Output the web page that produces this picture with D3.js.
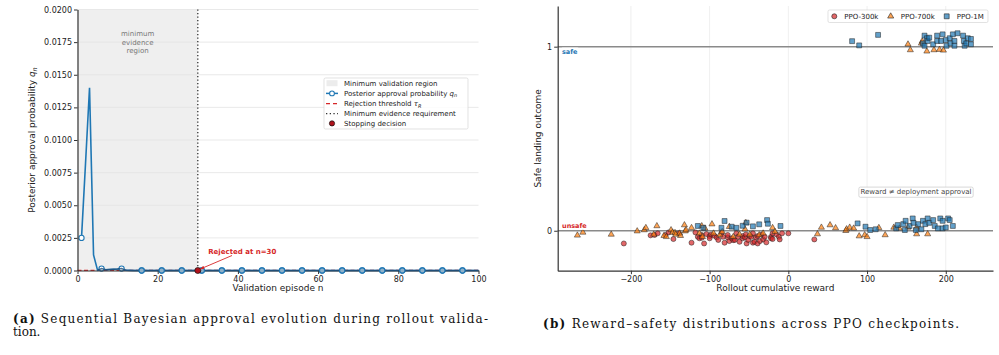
<!DOCTYPE html>
<html>
<head>
<meta charset="utf-8">
<script src="https://cdn.jsdelivr.net/npm/d3@7"></script>
<style>
body { margin: 0; background: #fff; }
text { font-family: "DejaVu Sans", sans-serif; }
.cap { font-family: "DejaVu Serif", serif; }
</style>
</head>
<body>
<div id="chart"></div>
<script>
// ---- data: panel (a) ----
// posterior approval probability q_n for validation episodes n = 1..100
const qValues = [
  0.0025, 0.0082, 0.0140, 0.0012, 0.00002, 0.00015, 0.00006, 0.00008, 0.00010, 0.00012,
  0.00015, 0.00002, 0.00001, 0, 0, 0, 0, 0, 0, 0,
  0, 0, 0, 0, 0, 0, 0, 0, 0, 0,
  0, 0, 0, 0, 0, 0, 0, 0, 0, 0,
  0, 0, 0, 0, 0, 0, 0, 0, 0, 0,
  0, 0, 0, 0, 0, 0, 0, 0, 0, 0,
  0, 0, 0, 0, 0, 0, 0, 0, 0, 0,
  0, 0, 0, 0, 0, 0, 0, 0, 0, 0,
  0, 0, 0, 0, 0, 0, 0, 0, 0, 0,
  0, 0, 0, 0, 0, 0, 0, 0, 0, 0
];
const minEvidence = 30;
const rejectThreshold = 0.00001;
const stopEpisode = 30;
const xTicksA = [0, 20, 40, 60, 80, 100];
const yTicksA = [0, 0.0025, 0.005, 0.0075, 0.01, 0.0125, 0.015, 0.0175, 0.02];

// ---- data: panel (b) ----  [cumulative reward, plotted outcome (0/1 + jitter)]
const ppo300k = [
  [-209,-0.069],[-175,-0.025],[-170,-0.023],[-166,-0.014],[-156,-0.023],[-152,-0.009],[-146,-0.045],
  [-139,-0.014],[-123,-0.065],[-118,-0.009],[-115,-0.033],[-113,-0.041],[-110,-0.023],[-110,-0.038],
  [-107,-0.069],[-104,-0.018],[-100,-0.029],[-100,-0.041],[-98,-0.02],[-94,-0.027],[-91,-0.036],
  [-89,-0.05],[-85,-0.014],[-83,-0.033],[-81,-0.065],[-77,-0.036],[-77,-0.023],[-75,-0.056],
  [-72,-0.041],[-70,-0.051],[-68,-0.05],[-66,-0.014],[-64,-0.033],[-62,-0.06],[-58,-0.041],
  [-58,-0.029],[-55,-0.036],[-54,-0.02],[-53,-0.069],[-51,-0.05],[-49,-0.029],[-47,-0.033],
  [-45,-0.065],[-45,-0.014],[-43,-0.06],[-41,-0.036],[-39,-0.069],[-39,-0.029],[-36,-0.056],
  [-34,-0.02],[-32,-0.047],[-30,-0.033],[-28,-0.063],[-22,-0.033],[-22,-0.041],[-20,-0.045],
  [-20,-0.014],[-15,-0.02],[-12,-0.033],[-11,-0.047],[-8,-0.014],[0,-0.014],[33,-0.047]
];
const ppo700k = [
  [-268,-0.025],[-261,-0.009],[-225,-0.02],[-192,-0.002],[-183,0.004],[-181,0.016],[-171,-0.02],
  [-167,0.026],[-158,-0.027],[-155,-0.033],[-149,0.004],[-147,-0.009],[-144,-0.011],[-143,-0.02],
  [-138,-0.014],[-137,-0.027],[-132,0.031],[-131,-0.002],[-130,0.004],[-123,0.016],[-113,-0.014],
  [-110,0.026],[-109,-0.033],[-106,0.013],[-97,0.036],[-95,-0.014],[-87,-0.023],[-84,-0.005],
  [-75,0.022],[-70,-0.033],[-62,-0.02],[-55,0.008],[-54,0.043],[-49,-0.02],[-37,-0.023],
  [-32,-0.014],[-20,0.016],[-17,-0.005],[37,-0.018],[42,0.018],[53,0.031],[60,0.015],[73,0],
  [74,0.009],[78,0.018],[83,0.013],[90,-0.029],[97,-0.023],[100,-0.033],[115,0.016],[123,-0.023],
  [134,0.018],[141,0.013],[152,0.018],[163,-0.018],[163,0.018],[177,-0.018],
  [152,1.013],[155,0.982],[169,1.018],[170,1.029],[176,0.975],[185,0.982],[192,0.984],[197,0.98]
];
const ppo1m = [
  [-115,0.026],[-108,0.016],[-85,0.016],[-81,0.053],[-72,0.022],[-66,0.016],[-58,0.027],[-53,0.044],
  [-45,0.024],[-37,0.035],[-27,0.058],[-26,0.038],[-10,0.026],[88,0.04],[98,0.022],[104,0.004],
  [111,0.008],[137,0.013],[139,0.031],[146,0.036],[148,0.004],[149,0.054],[154,0.026],[158,0.067],
  [159,0.043],[162,0.004],[165,0.036],[169,0.008],[171,0.054],[174,0.036],[177,0.067],[179,0.043],
  [184,0.058],[186,0.026],[190,0.013],[193,0.067],[196,0.054],[196,0.013],[200,0.018],[203,0.067],
  [205,0.058],[209,0.026],
  [81,1.03],[90,1.007],[114,1.064],[171,1.018],[173,1.06],[173,1.005],[176,1.046],[177,1.031],
  [179,1.049],[184,1.013],[189,1.06],[189,1.031],[194,1.031],[196,1.067],[200,1.036],[201,1.005],
  [205,1.046],[206,1.018],[209,1.067],[211,1.031],[211,1.005],[215,1.073],[222,1.06],[223,1.031],
  [224,1.005],[226,1.018],[228,1.046],[232,1.042],[232,1.013]
];
const xTicksB = [-200, -100, 0, 100, 200];
const yTicksB = [0, 1];

const W = 999, H = 355;
const svg = d3.select("#chart").append("svg")
    .attr("width", W).attr("height", H);

const defs = svg.append("defs");
defs.append("marker").attr("id", "arrowRed")
    .attr("viewBox", "0 0 10 10").attr("refX", 9).attr("refY", 5)
    .attr("markerWidth", 5).attr("markerHeight", 5).attr("orient", "auto")
  .append("path").attr("d", "M0,1 L10,5 L0,9 z").attr("fill", "#d62728");

// =================== panel (a) ===================
const xA = d3.scaleLinear().domain([0, 100]).range([77.5, 478.5]);
const yA = d3.scaleLinear().domain([0, 0.02]).range([270.5, 9.5]);
const gA = svg.append("g");

// minimum evidence shading
gA.append("rect")
    .attr("x", xA(0)).attr("y", yA(0.02))
    .attr("width", xA(minEvidence) - xA(0)).attr("height", yA(0) - yA(0.02))
    .attr("fill", "#efefef");

// horizontal grid
gA.append("g").selectAll("line").data(yTicksA).join("line")
    .attr("x1", xA(0)).attr("x2", xA(100))
    .attr("y1", d => yA(d)).attr("y2", d => yA(d))
    .attr("stroke", "#e3e3e3").attr("stroke-width", 0.8);

gA.append("g").selectAll("text").data(["minimum", "evidence", "region"]).join("text")
    .attr("x", xA(15)).attr("y", (d, i) => 36 + i * 8.5)
    .attr("text-anchor", "middle").attr("font-size", 7).attr("fill", "#777")
    .text(d => d);

// minimum evidence line
gA.append("line")
    .attr("x1", xA(minEvidence)).attr("x2", xA(minEvidence))
    .attr("y1", yA(0.02)).attr("y2", yA(0))
    .attr("stroke", "#333").attr("stroke-width", 1.3).attr("stroke-dasharray", "1.3,2.2");

// rejection threshold
gA.append("line")
    .attr("x1", xA(0)).attr("x2", xA(100))
    .attr("y1", yA(rejectThreshold)).attr("y2", yA(rejectThreshold))
    .attr("stroke", "#d62728").attr("stroke-width", 1.2).attr("stroke-dasharray", "4,2.5");

const qPoints = qValues.map((v, i) => ({n: i + 1, q: v}));
gA.append("path").datum(qPoints)
    .attr("fill", "none").attr("stroke", "#1f77b4").attr("stroke-width", 1.6)
    .attr("d", d3.line().x(d => xA(d.n)).y(d => yA(d.q)));

gA.append("g").selectAll("circle").data(qPoints.filter((d, i) => i % 5 === 0)).join("circle")
    .attr("cx", d => xA(d.n)).attr("cy", d => yA(d.q)).attr("r", 2.6)
    .attr("fill", "#fff").attr("stroke", "#1f77b4").attr("stroke-width", 1.1);

// axes
const axA = gA.append("g").attr("transform", `translate(0,${yA(0)})`)
    .call(d3.axisBottom(xA).tickValues(xTicksA).tickSize(3.5).tickSizeOuter(0).tickPadding(2));
const ayA = gA.append("g").attr("transform", `translate(${xA(0)},0)`)
    .call(d3.axisLeft(yA).tickValues(yTicksA).tickFormat(d3.format(".4f")).tickSize(3.5).tickSizeOuter(0).tickPadding(2));
[axA, ayA].forEach(a => {
  a.select(".domain").attr("stroke", "#333").attr("stroke-width", 1.2);
  a.selectAll(".tick line").attr("stroke", "#333");
  a.selectAll(".tick text").attr("font-size", 8).attr("fill", "#222")
      .attr("font-family", "DejaVu Sans");
});

// blue line drawn again over the bottom spine region
gA.append("path").datum(qPoints.filter(d => d.n >= 5))
    .attr("fill", "none").attr("stroke", "#1f4e79").attr("stroke-width", 1.4).attr("opacity", 0.8)
    .attr("d", d3.line().x(d => xA(d.n)).y(d => yA(d.q)));
gA.append("g").selectAll("circle").data(qPoints.filter((d, i) => i % 5 === 0 && d.n > 12)).join("circle")
    .attr("cx", d => xA(d.n)).attr("cy", d => yA(d.q)).attr("r", 2.6)
    .attr("fill", "#8fb0c8").attr("stroke", "#1f77b4").attr("stroke-width", 1.1);

// stopping decision
gA.append("circle")
    .attr("cx", xA(stopEpisode)).attr("cy", yA(qValues[stopEpisode - 1])).attr("r", 3)
    .attr("fill", "#b0121b").attr("stroke", "#111").attr("stroke-width", 0.7);

gA.append("line")
    .attr("x1", 232).attr("y1", 255.5)
    .attr("x2", xA(stopEpisode) + 2.5).attr("y2", yA(0) - 1.5)
    .attr("stroke", "#d62728").attr("stroke-width", 0.9).attr("marker-end", "url(#arrowRed)");
gA.append("text").attr("x", xA(32.6)).attr("y", yA(0.00125))
    .attr("font-size", 7).attr("font-weight", "bold").attr("fill", "#d62728")
    .text("Rejected at n=30");

gA.append("text")
    .attr("transform", `translate(35,${(yA(0) + yA(0.02)) / 2}) rotate(-90)`)
    .attr("text-anchor", "middle").attr("font-size", 9).attr("fill", "#222")
    .html('Posterior approval probability <tspan font-style="italic">q</tspan><tspan font-style="italic" font-size="6.5" dy="2">n</tspan>');
gA.append("text").attr("x", (xA(0) + xA(100)) / 2).attr("y", 291)
    .attr("text-anchor", "middle").attr("font-size", 9).attr("fill", "#222")
    .text("Validation episode n");

// legend (a)
const legA = gA.append("g").attr("transform", "translate(324,78)");
legA.append("rect").attr("width", 144).attr("height", 51).attr("rx", 1.5)
    .attr("fill", "#fff").attr("fill-opacity", 0.85).attr("stroke", "#d5d5d5").attr("stroke-width", 0.7);
const rowsA = [5.2, 15.4, 25.6, 35.6, 45.4];
legA.append("rect").attr("x", 2.5).attr("y", rowsA[0] - 3).attr("width", 11).attr("height", 6).attr("fill", "#ececec");
legA.append("line").attr("x1", 2).attr("x2", 14).attr("y1", rowsA[1]).attr("y2", rowsA[1])
    .attr("stroke", "#1f77b4").attr("stroke-width", 1.5);
legA.append("circle").attr("cx", 8).attr("cy", rowsA[1]).attr("r", 2.4)
    .attr("fill", "#fff").attr("stroke", "#1f77b4").attr("stroke-width", 1.1);
legA.append("line").attr("x1", 2).attr("x2", 14).attr("y1", rowsA[2]).attr("y2", rowsA[2])
    .attr("stroke", "#d62728").attr("stroke-width", 1.2).attr("stroke-dasharray", "4,3");
legA.append("line").attr("x1", 2).attr("x2", 14).attr("y1", rowsA[3]).attr("y2", rowsA[3])
    .attr("stroke", "#333").attr("stroke-width", 1.3).attr("stroke-dasharray", "1.3,2.4");
legA.append("circle").attr("cx", 8).attr("cy", rowsA[4]).attr("r", 2.6)
    .attr("fill", "#b0121b").attr("stroke", "#111").attr("stroke-width", 0.7);
const legTextA = [
  "Minimum validation region",
  'Posterior approval probability <tspan font-style="italic">q</tspan><tspan font-style="italic" font-size="5" dy="1.5">n</tspan>',
  'Rejection threshold <tspan font-style="italic">τ</tspan><tspan font-style="italic" font-size="5" dy="1.5">R</tspan>',
  "Minimum evidence requirement",
  "Stopping decision"
];
legA.selectAll("text.lt").data(legTextA).join("text").attr("class", "lt")
    .attr("x", 20).attr("y", (d, i) => rowsA[i] + 2.5)
    .attr("font-size", 7).attr("fill", "#222").html(d => d);

// =================== panel (b) ===================
const xB = d3.scaleLinear().domain([-293, 260]).range([557.7, 993]);
const yB = d3.scaleLinear().domain([-0.217, 1.221]).range([270.7, 6]);
const gB = svg.append("g");

gB.append("g").selectAll("line").data(xTicksB).join("line")
    .attr("x1", d => xB(d)).attr("x2", d => xB(d))
    .attr("y1", yB(1.221)).attr("y2", yB(-0.217))
    .attr("stroke", "#ebebeb").attr("stroke-width", 0.8);

gB.append("g").selectAll("line").data(yTicksB).join("line")
    .attr("x1", xB(-293)).attr("x2", xB(260))
    .attr("y1", d => yB(d)).attr("y2", d => yB(d))
    .attr("stroke", "#8a8a8a").attr("stroke-width", 1.4);

const marker = {
  circle: d3.symbol(d3.symbolCircle, 20),
  triangle: d3.symbol(d3.symbolTriangle, 16),
  square: d3.symbol(d3.symbolSquare, 24)
};
const groups = [
  {name: "PPO-300k", data: ppo300k, shape: "circle", color: "#d62728"},
  {name: "PPO-700k", data: ppo700k, shape: "triangle", color: "#ff7f0e"},
  {name: "PPO-1M", data: ppo1m, shape: "square", color: "#1f77b4"}
];
groups.forEach(gr => {
  gB.append("g").selectAll("path").data(gr.data).join("path")
      .attr("transform", d => `translate(${xB(d[0])},${yB(d[1])})`)
      .attr("d", marker[gr.shape])
      .attr("fill", gr.color).attr("fill-opacity", 0.7)
      .attr("stroke", "#222").attr("stroke-width", 0.6).attr("stroke-opacity", 0.85);
});

const axB = gB.append("g").attr("transform", `translate(0,${yB(-0.217)})`)
    .call(d3.axisBottom(xB).tickValues(xTicksB).tickSize(3.5).tickSizeOuter(0).tickPadding(2));
const ayB = gB.append("g").attr("transform", `translate(${xB(-293)},0)`)
    .call(d3.axisLeft(yB).tickValues(yTicksB).tickFormat(d3.format("d")).tickSize(3.5).tickSizeOuter(0).tickPadding(2));
[axB, ayB].forEach(a => {
  a.select(".domain").attr("stroke", "#333").attr("stroke-width", 1.2);
  a.selectAll(".tick line").attr("stroke", "#333");
  a.selectAll(".tick text").attr("font-size", 8).attr("fill", "#222")
      .attr("font-family", "DejaVu Sans");
});

gB.append("text")
    .attr("transform", `translate(541,${(yB(-0.217) + yB(1.221)) / 2}) rotate(-90)`)
    .attr("text-anchor", "middle").attr("font-size", 9).attr("fill", "#222")
    .text("Safe landing outcome");
gB.append("text").attr("x", (xB(-293) + xB(260)) / 2).attr("y", 291)
    .attr("text-anchor", "middle").attr("font-size", 9).attr("fill", "#222")
    .text("Rollout cumulative reward");

// outcome labels with white boxes
function boxedText(g, x, y, txt, opts) {
  const t = g.append("text").attr("x", x).attr("y", y)
      .attr("font-size", opts.size).attr("font-weight", opts.weight || "normal")
      .attr("fill", opts.color).attr("text-anchor", opts.anchor || "start").text(txt);
  const b = t.node().getBBox();
  g.insert("rect", () => t.node())
      .attr("x", b.x - opts.pad).attr("y", b.y - opts.pad + 0.5)
      .attr("width", b.width + 2 * opts.pad).attr("height", b.height + 2 * opts.pad - 1)
      .attr("rx", 1.5).attr("fill", "#fff").attr("fill-opacity", 0.9)
      .attr("stroke", opts.stroke || "none").attr("stroke-width", 0.7);
}
boxedText(gB, 562, 54, "safe", {size: 6.5, weight: "bold", color: "#1f77b4", pad: 1});
boxedText(gB, 562, 227.5, "unsafe", {size: 6.5, weight: "bold", color: "#d62728", pad: 1});
boxedText(gB, 916, 194.2, "Reward ≠ deployment approval",
    {size: 7, color: "#444", pad: 1.6, anchor: "middle", stroke: "#c8c8c8"});

// legend (b)
const legB = gB.append("g").attr("transform", "translate(828,10)");
legB.append("rect").attr("width", 160).attr("height", 12.5).attr("rx", 1.5)
    .attr("fill", "#fff").attr("fill-opacity", 0.85).attr("stroke", "#d5d5d5").attr("stroke-width", 0.7);
const legXB = [6.3, 62.7, 118.7];
groups.forEach((gr, i) => {
  legB.append("path").attr("transform", `translate(${legXB[i]},6.3)`)
      .attr("d", marker[gr.shape])
      .attr("fill", gr.color).attr("fill-opacity", 0.7)
      .attr("stroke", "#222").attr("stroke-width", 0.6);
  legB.append("text").attr("x", legXB[i] + 10).attr("y", 8.8)
      .attr("font-size", 7).attr("fill", "#222").text(gr.name);
});

// =================== captions ===================
svg.append("text").attr("class", "cap").attr("x", 13).attr("y", 323)
    .attr("font-size", 12).attr("fill", "#111")
    .attr("textLength", 475).attr("lengthAdjust", "spacing")
    .html('<tspan font-weight="bold">(a)</tspan> Sequential Bayesian approval evolution during rollout valida-');
svg.append("text").attr("class", "cap").attr("x", 13).attr("y", 335.5)
    .attr("font-size", 12).attr("fill", "#111").text("tion.");
svg.append("text").attr("class", "cap").attr("x", 543).attr("y", 328)
    .attr("font-size", 12).attr("fill", "#111")
    .attr("textLength", 416).attr("lengthAdjust", "spacing")
    .html('<tspan font-weight="bold">(b)</tspan> Reward–safety distributions across PPO checkpoints.');
</script>
</body>
</html>
